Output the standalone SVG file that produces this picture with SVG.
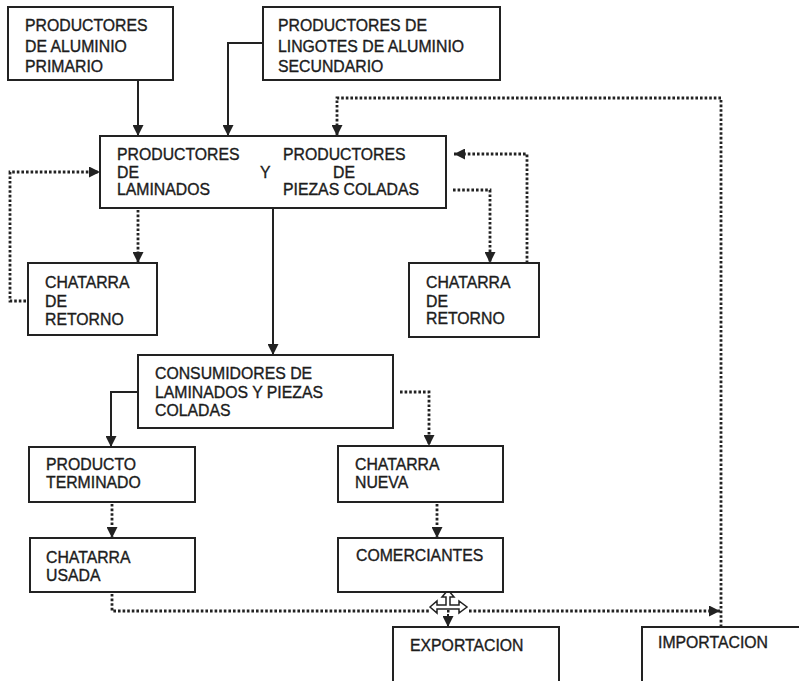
<svg xmlns="http://www.w3.org/2000/svg" width="799" height="681" viewBox="0 0 799 681">
<style>
.box{fill:#fff;stroke:#222;stroke-width:2}
.t{font-family:"Liberation Sans",Arial,sans-serif;font-size:15.8px;fill:#1c1c1c;stroke:#1c1c1c;stroke-width:0.35}
.s{fill:none;stroke:#222;stroke-width:2}
.d{fill:none;stroke:#222;stroke-width:2.8;stroke-dasharray:2.6 2}
</style>
<defs>
<marker id="arr" viewBox="0 0 10 10" refX="10" refY="5" markerWidth="11" markerHeight="11" markerUnits="userSpaceOnUse" orient="auto"><path d="M0,0 L10,5 L0,10 z" fill="#222"/></marker>
</defs>
<rect width="799" height="681" fill="#fff"/>
<g id="connectors">
<path class="s" d="M138,80 V136" marker-end="url(#arr)"/>
<path class="s" d="M263,43 H228 V136" marker-end="url(#arr)"/>
<path class="d" d="M721,627 V98 H337 V136" marker-end="url(#arr)"/>
<path class="d" d="M26,301 H10 V172 H100" marker-end="url(#arr)"/>
<path class="d" d="M138,210 V263" marker-end="url(#arr)"/>
<path class="s" d="M273,208 V355" marker-end="url(#arr)"/>
<path class="d" d="M453,190 H490 V263" marker-end="url(#arr)"/>
<path class="d" d="M527,263 V154 H454" marker-end="url(#arr)"/>
<path class="s" d="M138,392 H111 V447" marker-end="url(#arr)"/>
<path class="d" d="M400,392 H429 V446" marker-end="url(#arr)"/>
<path class="d" d="M112,504 V538" marker-end="url(#arr)"/>
<path class="d" d="M437,504 V538" marker-end="url(#arr)"/>
<path class="d" d="M112,594 V611 H430"/>
<path class="d" d="M469,611 H720" marker-end="url(#arr)"/>
<path class="s" d="M448,614 V627" marker-end="url(#arr)"/>
<polygon points="430,607 437,601 437,605 446,605 446,597 442,597 448,590 454,597 450,597 450,605 459,605 459,601 467,607 459,613 459,609 437,609 437,613" fill="#fff" stroke="#222" stroke-width="1.5"/>
<rect x="447" y="610" width="2.5" height="2.5" fill="#222"/>
</g>
<g id="n1"><rect class="box" x="8" y="7" width="165" height="73"/>
<text class="t" x="25" y="31">PRODUCTORES</text><text class="t" x="25" y="51.5">DE ALUMINIO</text><text class="t" x="25" y="71.5">PRIMARIO</text></g>
<g id="n2"><rect class="box" x="263" y="7" width="237" height="73"/>
<text class="t" x="278" y="31">PRODUCTORES DE</text><text class="t" x="278" y="51.5">LINGOTES DE ALUMINIO</text><text class="t" x="278" y="71.5">SECUNDARIO</text></g>
<g id="n3"><rect class="box" x="100" y="136" width="346" height="72"/>
<text class="t" x="117" y="160">PRODUCTORES</text><text class="t" x="117" y="177.5">DE</text><text class="t" x="117" y="195">LAMINADOS</text>
<text class="t" x="260" y="177.5">Y</text>
<text class="t" x="283" y="160">PRODUCTORES</text><text class="t" x="344" y="177.5" text-anchor="middle">DE</text><text class="t" x="283" y="195">PIEZAS COLADAS</text></g>
<g id="n4"><rect class="box" x="28" y="263" width="129" height="72"/>
<text class="t" x="45" y="288">CHATARRA</text><text class="t" x="45" y="307">DE</text><text class="t" x="45" y="325">RETORNO</text></g>
<g id="n5"><rect class="box" x="409" y="263" width="130" height="74"/>
<text class="t" x="426" y="288">CHATARRA</text><text class="t" x="426" y="307">DE</text><text class="t" x="426" y="324">RETORNO</text></g>
<g id="n6"><rect class="box" x="138" y="355" width="255" height="73"/>
<text class="t" x="155" y="379">CONSUMIDORES DE</text><text class="t" x="155" y="398">LAMINADOS Y PIEZAS</text><text class="t" x="155" y="416">COLADAS</text></g>
<g id="n7"><rect class="box" x="29" y="447" width="166" height="55"/>
<text class="t" x="46" y="470">PRODUCTO</text><text class="t" x="46" y="488">TERMINADO</text></g>
<g id="n8"><rect class="box" x="338" y="446" width="165" height="56"/>
<text class="t" x="355" y="470">CHATARRA</text><text class="t" x="355" y="488">NUEVA</text></g>
<g id="n9"><rect class="box" x="30" y="538" width="165" height="54"/>
<text class="t" x="46" y="563">CHATARRA</text><text class="t" x="46" y="581">USADA</text></g>
<g id="n10"><rect class="box" x="338" y="538" width="165" height="54"/>
<text class="t" x="356" y="561">COMERCIANTES</text></g>
<g id="n11"><rect class="box" x="393" y="627" width="166" height="70"/>
<text class="t" x="410" y="651">EXPORTACION</text></g>
<g id="n12"><rect class="box" x="642" y="627" width="170" height="70"/>
<text class="t" x="658" y="648">IMPORTACION</text></g>
</svg>
